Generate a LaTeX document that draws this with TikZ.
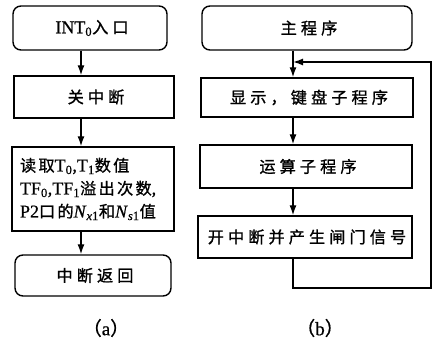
\documentclass[tikz,border=0pt]{standalone}
\usepackage{fontspec}
\setmainfont{Liberation Serif}[FakeBold=0.6]
\newfontfamily\cjk{Noto Sans CJK SC}[Scale=0.9, LetterSpace=25, FakeBold=1.0]
\newfontfamily\cjkb{Noto Sans CJK SC}[Scale=0.9, LetterSpace=14, FakeBold=1.0]
\newfontfamily\cjkp{Noto Sans CJK SC}[FakeBold=0.6]
\usetikzlibrary{arrows.meta}
\tikzset{
  box/.style={draw, line width=1.4pt, inner sep=0pt, font=\fontsize{18}{22}\selectfont},
  rbox/.style={box, rounded corners=8pt},
  arr/.style={line width=1.4pt, -{Latex[length=10pt,width=7pt]}},
  lbl/.style={font=\fontsize{19}{22}\selectfont},
}
\begin{document}
\begin{tikzpicture}[x=1pt,y=-1pt]
\useasboundingbox (0,0) rectangle (432,339);
% (a)
\node[rbox, minimum width=154pt, minimum height=44pt] (A1) at (90,28) {INT\textsubscript{0}{\cjk 入口}\kern-4pt};
\node[box, minimum width=160pt, minimum height=42pt] (A2) at (94,97) {{\cjk 关中断}\kern-4pt};
\node[box, minimum width=162pt, minimum height=84pt, text width=146pt, align=left,
      font=\fontsize{18}{23}\selectfont] (A3) at (93,189)
  {{\cjkb 读取}T\textsubscript{0},T\textsubscript{1}{\cjkb 数值}\\
   TF\textsubscript{0},TF\textsubscript{1}{\cjkb 溢出次数},\\
   P2{\cjkb 口的}\textit{N}\textsubscript{\textit{x}1}{\cjkb 和}\textit{N}\textsubscript{\textit{s}1}{\cjkb 值}};
\node[rbox, minimum width=156pt, minimum height=41pt] (A4) at (93,275.5) {{\cjk 中断返回}\kern-4pt};
\coordinate (la) at (81,0);
\draw[arr] (A1.south -| la) -- (A2.north -| la);
\draw[arr] (A2.south -| la) -- (A3.north -| la);
\draw[arr] (A3.south -| la) -- (A4.north -| la);
\node[lbl] (capa) at (106,328) {{\cjkp （}a{\cjkp ）}};
% (b)
\node[rbox, minimum width=210pt, minimum height=44pt] (B1) at (307,28) {{\cjk 主程序}\kern-4pt};
\node[box, minimum width=212pt, minimum height=39pt] (B2) at (307,97.5) {{\cjk 显示，键盘子程序}\kern-4pt};
\node[box, minimum width=212pt, minimum height=43pt] (B3) at (306,166.5) {{\cjk 运算子程序}\kern-4pt};
\node[box, minimum width=214pt, minimum height=42pt] (B4) at (305,237) {{\cjk 开中断并产生闸门信号}\kern-4pt};
\coordinate (ra) at (293,0);
\coordinate (fbR) at (431,288);
\coordinate (join) at (293,62);
\draw[arr] (B1.south -| ra) -- (B2.north -| ra);
\draw[arr] (B2.south -| ra) -- (B3.north -| ra);
\draw[arr] (B3.south -| ra) -- (B4.north -| ra);
\draw[arr] (B4.south -| ra) |- (fbR) |- (join);
\node[lbl] (capb) at (320,328) {{\cjkp （}b{\cjkp ）}};
\end{tikzpicture}
\end{document}
